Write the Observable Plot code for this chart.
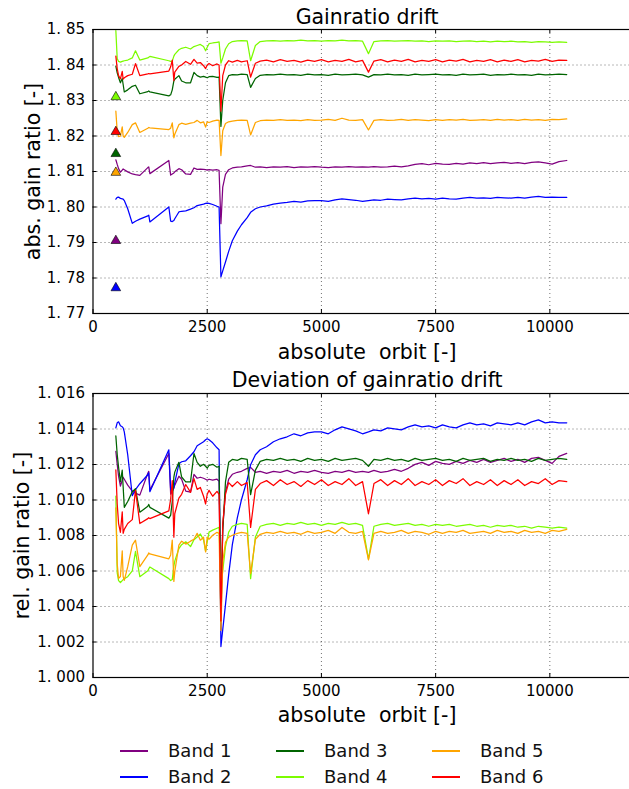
<!DOCTYPE html>
<html><head><meta charset="utf-8">
<script src="https://cdn.jsdelivr.net/npm/d3@7"></script>
<script src="https://cdn.jsdelivr.net/npm/@observablehq/plot@0.6"></script>
<style>
html,body{margin:0;padding:0;background:#fff;overflow:hidden;}
#wrap{position:relative;width:629px;height:789px;overflow:hidden;font-family:"DejaVu Sans",sans-serif;background:#fff;}
#top,#bot{position:absolute;left:0;width:650px;}
#top{top:0px}
#bot{top:364px}
#wrap svg{max-width:none !important;}
#legend{position:absolute;top:738px;left:0;width:629px;height:51px;}
.item{position:absolute;display:flex;align-items:center;font-size:18px;color:#111;height:24px;line-height:24px;}
.swatch{display:inline-block;width:28px;height:1.4px;margin-right:20px;}
svg text{white-space:pre;}
</style></head>
<body><div id="wrap"><div id="top"></div><div id="bot"></div><div id="legend"></div></div>
<script>
const bands = ["Band 1", "Band 2", "Band 3", "Band 4", "Band 5", "Band 6"];
const colors = ["#800080", "#0000ff", "#006400", "#7cfc00", "#ffa500", "#ff0000"];
const xTicks = [0, 2500, 5000, 7500, 10000];
const yTicksAbs = [1.77, 1.78, 1.79, 1.80, 1.81, 1.82, 1.83, 1.84, 1.85];
const yTicksRel = [1.000, 1.002, 1.004, 1.006, 1.008, 1.010, 1.012, 1.014, 1.016];
const refOrbit = 500;
const refs = [1.7905, 1.7772, 1.8150, 1.8310, 1.8097, 1.8212];

const orbit = [500,530,560,600,640,660,685,760,860,930,
1025,1200,1220,1245,1660,1700,1735,1770,1790,1880,
1940,2030,2135,2210,2280,2350,2420,2465,2500,2540,
2620,2715,2760,2800,2840,2900,2970,3050,3160,3250,
3375,3450,3555,3660,3800,3950,4100,4250,4400,4550,
4700,4850,5000,5150,5300,5450,5600,5750,5900,6030,
6150,6300,6450,6600,6750,6900,7050,7200,7350,7500,
7650,7800,7950,8100,8250,8400,8550,8700,8850,9000,
9150,9300,9450,9600,9750,9900,10050,10200,10370];

const band1 = [1.8133,1.8120,1.8108,1.8098,1.8104,1.8107,1.8105,1.8099,1.8093,1.8091,
1.8089,1.8111,1.8113,1.8094,1.8131,1.8090,1.8093,1.8096,1.8099,1.8108,
1.8105,1.8093,1.8092,1.8110,1.8106,1.8107,1.8106,1.8105,1.8104,1.8105,
1.8104,1.8105,1.8103,1.7953,1.8056,1.8092,1.8105,1.8110,1.8112,1.8113,
1.8116,1.8117,1.8112,1.8113,1.8111,1.8113,1.8112,1.8114,1.8111,1.8113,
1.8112,1.8114,1.8112,1.8111,1.8113,1.8112,1.8114,1.8112,1.8113,1.8112,
1.8114,1.8112,1.8113,1.8115,1.8113,1.8116,1.8120,1.8122,1.8119,1.8123,
1.8121,1.8120,1.8123,1.8121,1.8124,1.8122,1.8125,1.8122,1.8124,1.8126,
1.8123,1.8125,1.8122,1.8126,1.8127,1.8124,1.8121,1.8128,1.8131];

const band2 = [1.8022,1.8027,1.8028,1.8024,1.8023,1.8022,1.8018,1.7995,1.7954,1.7960,
1.7966,1.7975,1.7977,1.7958,1.8000,1.7960,1.7959,1.7962,1.7967,1.7986,
1.7988,1.7989,1.7994,1.7998,1.8004,1.8006,1.8008,1.8010,1.8011,1.8010,
1.8007,1.8002,1.8000,1.7803,1.7820,1.7845,1.7875,1.7905,1.7932,1.7950,
1.7970,1.7985,1.7995,1.8000,1.8003,1.8008,1.8011,1.8013,1.8016,1.8014,
1.8017,1.8018,1.8018,1.8016,1.8020,1.8023,1.8021,1.8019,1.8016,1.8018,
1.8020,1.8019,1.8022,1.8021,1.8020,1.8023,1.8025,1.8023,1.8024,1.8022,
1.8025,1.8023,1.8022,1.8025,1.8027,1.8025,1.8026,1.8024,1.8027,1.8026,
1.8025,1.8027,1.8025,1.8028,1.8030,1.8027,1.8028,1.8027,1.8027];

const band3 = [1.8397,1.8378,1.8365,1.8350,1.8362,1.8345,1.8324,1.8330,1.8340,1.8343,
1.8319,1.8325,1.8327,1.8324,1.8313,1.8316,1.8330,1.8355,1.8360,1.8370,
1.8355,1.8350,1.8350,1.8379,1.8370,1.8366,1.8368,1.8366,1.8364,1.8367,
1.8368,1.8365,1.8366,1.8227,1.8300,1.8350,1.8370,1.8373,1.8372,1.8374,
1.8373,1.8337,1.8362,1.8371,1.8373,1.8372,1.8374,1.8372,1.8373,1.8371,
1.8374,1.8372,1.8373,1.8371,1.8374,1.8372,1.8373,1.8374,1.8372,1.8366,
1.8373,1.8372,1.8374,1.8372,1.8373,1.8371,1.8374,1.8372,1.8373,1.8374,
1.8372,1.8373,1.8371,1.8374,1.8372,1.8373,1.8374,1.8371,1.8373,1.8372,
1.8374,1.8372,1.8373,1.8371,1.8374,1.8372,1.8373,1.8374,1.8373];

const band4 = [1.8497,1.8418,1.8410,1.8408,1.8410,1.8411,1.8412,1.8414,1.8420,1.8440,
1.8414,1.8420,1.8422,1.8424,1.8412,1.8410,1.8411,1.8425,1.8430,1.8443,
1.8447,1.8450,1.8445,1.8452,1.8455,1.8458,1.8452,1.8440,1.8450,1.8460,
1.8462,1.8464,1.8465,1.8405,1.8420,1.8445,1.8460,1.8466,1.8468,1.8469,
1.8468,1.8412,1.8455,1.8466,1.8468,1.8469,1.8467,1.8469,1.8468,1.8470,
1.8468,1.8469,1.8467,1.8469,1.8468,1.8470,1.8468,1.8469,1.8467,1.8432,
1.8466,1.8468,1.8469,1.8467,1.8468,1.8469,1.8467,1.8468,1.8466,1.8468,
1.8467,1.8468,1.8466,1.8467,1.8468,1.8466,1.8467,1.8465,1.8467,1.8466,
1.8467,1.8465,1.8466,1.8464,1.8466,1.8465,1.8464,1.8465,1.8464];

const band5 = [1.8270,1.8213,1.8198,1.8200,1.8226,1.8200,1.8196,1.8210,1.8232,1.8237,
1.8210,1.8222,1.8224,1.8223,1.8218,1.8222,1.8237,1.8195,1.8205,1.8232,
1.8236,1.8233,1.8236,1.8238,1.8244,1.8237,1.8240,1.8225,1.8240,1.8238,
1.8242,1.8245,1.8244,1.8145,1.8215,1.8235,1.8240,1.8242,1.8244,1.8245,
1.8244,1.8203,1.8238,1.8243,1.8245,1.8244,1.8246,1.8244,1.8245,1.8243,
1.8246,1.8244,1.8245,1.8247,1.8244,1.8250,1.8245,1.8244,1.8246,1.8217,
1.8244,1.8246,1.8244,1.8245,1.8247,1.8244,1.8246,1.8245,1.8243,1.8246,
1.8244,1.8246,1.8245,1.8247,1.8244,1.8245,1.8246,1.8244,1.8247,1.8245,
1.8246,1.8244,1.8247,1.8245,1.8246,1.8244,1.8247,1.8246,1.8248];

const band6 = [1.8425,1.8390,1.8370,1.8361,1.8382,1.8360,1.8364,1.8370,1.8374,1.8404,
1.8370,1.8375,1.8376,1.8375,1.8383,1.8395,1.8414,1.8356,1.8380,1.8396,
1.8400,1.8410,1.8402,1.8416,1.8405,1.8407,1.8398,1.8390,1.8400,1.8404,
1.8398,1.8403,1.8400,1.8270,1.8370,1.8400,1.8412,1.8408,1.8413,1.8409,
1.8412,1.8366,1.8405,1.8411,1.8414,1.8409,1.8415,1.8410,1.8413,1.8408,
1.8414,1.8410,1.8415,1.8409,1.8413,1.8410,1.8416,1.8409,1.8413,1.8380,
1.8411,1.8415,1.8409,1.8414,1.8410,1.8416,1.8409,1.8413,1.8410,1.8415,
1.8409,1.8414,1.8411,1.8416,1.8409,1.8413,1.8410,1.8415,1.8409,1.8414,
1.8410,1.8415,1.8409,1.8413,1.8411,1.8416,1.8410,1.8414,1.8413];

const series = [band1, band2, band3, band4, band5, band6];

const absData = series.flatMap((s, k) => orbit.map((o, i) => ({orbit: o, band: bands[k], value: s[i]})));
const relData = series.flatMap((s, k) => orbit.map((o, i) => ({orbit: o, band: bands[k], value: s[i] / refs[k]})));
const refData = refs.map((r, k) => ({orbit: refOrbit, band: bands[k], value: r}));

const W = 650, mL = 92.5, mR = 9.3, mT = 29, PH = 284;
const PW = W - mL - mR;

function panel({data, domain, yTicks, fmt, title, ylabel, ylabelDx, height, titleDy, xlabelDy, dots}) {
  const mB = height - mT - PH;
  const grid = {stroke: "#000", strokeOpacity: 0.8, strokeWidth: 0.7, strokeDasharray: "1,3"};
  const marks = [
    Plot.ruleX(xTicks.slice(1), {x: d => d, ...grid}),
    Plot.ruleY(yTicks.slice(1, -1), {y: d => d, ...grid}),
    Plot.line(data, {x: "orbit", y: "value", z: "band", stroke: "band", strokeWidth: 1.25, clip: true}),
  ];
  if (dots) marks.push(Plot.dot(dots, {x: "orbit", y: "value", fill: "band", symbol: "triangle", r: 3.6, stroke: "#000", strokeWidth: 0.6}));
  marks.push(
    Plot.tickX(xTicks, {x: d => d, insetTop: PH - 4, stroke: "#000"}),
    Plot.tickX(xTicks, {x: d => d, insetBottom: PH - 4, stroke: "#000"}),
    Plot.tickY(yTicks, {y: d => d, insetRight: PW - 4, stroke: "#000"}),
    Plot.frame({stroke: "#000", strokeWidth: 1.2}),
    Plot.axisX(xTicks, {tickSize: 0, tickPadding: 8, tickFormat: d => String(d), fontSize: 15, label: null}),
    Plot.axisY(yTicks, {tickSize: 0, tickPadding: 8, tickFormat: fmt, fontSize: 15, label: null}),
    Plot.text([title], {frameAnchor: "top", dy: titleDy, fontSize: 20.5, textAnchor: "middle", lineAnchor: "middle", fill: "#000"}),
    Plot.text(["absolute  orbit [-]"], {frameAnchor: "bottom", dy: xlabelDy, fontSize: 20.5, textAnchor: "middle", lineAnchor: "middle", fill: "#000"}),
    Plot.text([ylabel], {frameAnchor: "left", dx: ylabelDx, rotate: -90, fontSize: 20.5, textAnchor: "middle", lineAnchor: "middle", fill: "#000"})
  );
  return Plot.plot({
    width: W, height,
    marginLeft: mL, marginRight: mR, marginTop: mT, marginBottom: mB,
    x: {domain: [0, 12000]},
    y: {domain},
    color: {domain: bands, range: colors},
    style: {fontFamily: "DejaVu Sans, sans-serif", fontSize: "15px", color: "#000", background: "#fff", overflow: "visible", maxWidth: "none"},
    marks
  });
}

document.getElementById("top").appendChild(panel({
  data: absData, domain: [1.77, 1.85], yTicks: yTicksAbs,
  fmt: d => d3.format(".2f")(d).replace(".", ". "),
  title: "Gainratio drift", ylabel: "abs. gain ratio [-]", ylabelDx: -59.5,
  height: 364, titleDy: -12, xlabelDy: 39, dots: refData
}));

document.getElementById("bot").appendChild(panel({
  data: relData, domain: [1.000, 1.016], yTicks: yTicksRel,
  fmt: d => d3.format(".3f")(d).replace(".", ". "),
  title: "Deviation of gainratio drift", ylabel: "rel. gain ratio [-]", ylabelDx: -70.5,
  height: 370, titleDy: -13, xlabelDy: 38, dots: null
}));

const legend = document.getElementById("legend");
const colLeft = [120, 276, 432];
const rowTop = [1, 27];
bands.forEach((b, k) => {
  const col = Math.floor(k / 2), row = k % 2;
  const item = document.createElement("div");
  item.className = "item";
  item.style.left = colLeft[col] + "px";
  item.style.top = rowTop[row] + "px";
  const sw = document.createElement("span");
  sw.className = "swatch";
  sw.style.background = colors[k];
  item.appendChild(sw);
  item.appendChild(document.createTextNode(b));
  legend.appendChild(item);
});
</script>
</body></html>
